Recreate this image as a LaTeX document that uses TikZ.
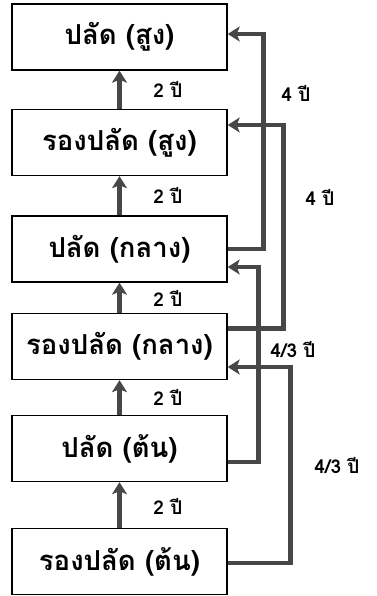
\documentclass[tikz,border=0pt]{standalone}
\usepackage{fontspec}
\setmainfont{Liberation Serif}
\newfontfamily\thaifont[Script=Thai]{Loma}
\usetikzlibrary{arrows.meta,calc}
\definecolor{linegray}{HTML}{474747}
\tikzset{
  rank/.style={draw=black, line width=1.4pt, minimum width=215pt, minimum height=66pt,
    inner sep=0pt, font=\thaifont\bfseries\fontsize{27.5pt}{30pt}\selectfont},
  promote/.style={draw=linegray, line width=4.5pt,
    -{Stealth[length=12pt,width=15pt,inset=3pt]}},
  fast/.style={promote},
  yrs/.style={font=\thaifont\bfseries\fontsize{19pt}{21pt}\selectfont, inner sep=1pt},
}
\begin{document}
\begin{tikzpicture}[x=1pt,y=-1pt]
  \useasboundingbox (0,0) rectangle (376,596);
  \fill[white] (0,0) rectangle (376,596);

  % ranks, from senior (top) to junior (bottom)
  \node[rank] (b1) at (119.5,37)   {ปลัด (สูง)};
  \node[rank] (b2) at (119.5,142.5) {รองปลัด (สูง)};
  \node[rank] (b3) at (119.5,249)  {ปลัด (กลาง)};
  \node[rank] (b4) at (119.5,346.5) {รองปลัด (กลาง)};
  \node[rank] (b5) at (119.5,448.5) {ปลัด (ต้น)};
  \node[rank] (b6) at (119.5,561.5) {รองปลัด (ต้น)};

  % regular steps of two years
  \foreach \lo/\hi/\ly in {b2/b1/89, b3/b2/195, b4/b3/298, b5/b4/397, b6/b5/506}{
    \draw[promote] (\lo.north) -- (\hi.south);
    \node[yrs] at (168,\ly) {2 ปี};
  }

  % fast-track routes
  \draw[fast] (b3.east) -- ++(36,0) |- ([yshift=3pt]b1.east);
  \draw[fast] ([yshift=18pt]b4.east) -- ++(56,0) |- ([yshift=17.5pt]b2.east);
  \draw[fast] ([yshift=-13.5pt]b5.east) -- ++(31,0) |- ([yshift=-18pt]b3.east);
  \draw[fast] ([yshift=-1.5pt]b6.east) -- ++(63,0) |- ([yshift=-20.5pt]b4.east);

  \node[yrs] at (296,93)  {4 ปี};
  \node[yrs] at (320,197) {4 ปี};
  \node[yrs] at (293,350) {4/3 ปี};
  \node[yrs] at (337,466) {4/3 ปี};
\end{tikzpicture}
\end{document}
